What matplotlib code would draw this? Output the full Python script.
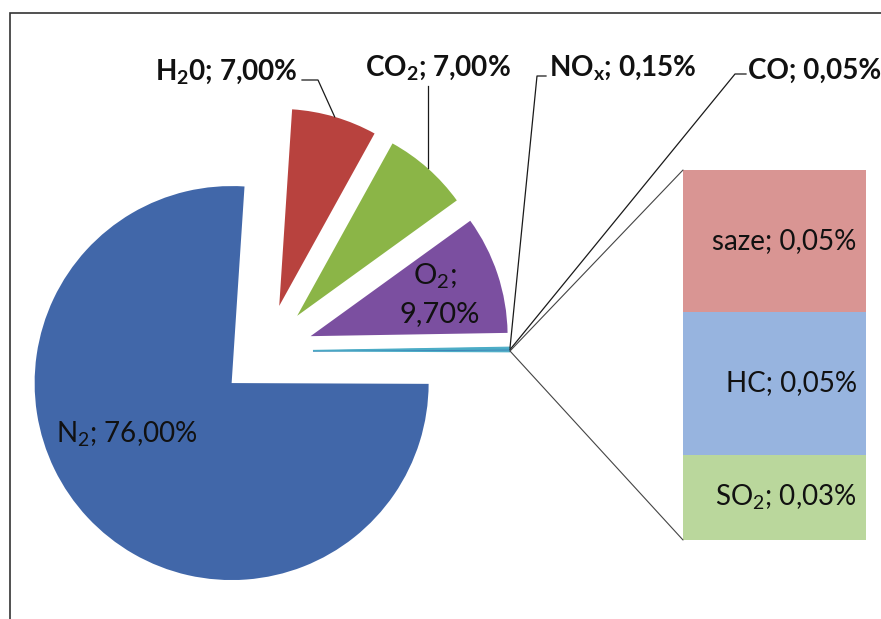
import numpy as np
import matplotlib
matplotlib.use("Agg")
import matplotlib.pyplot as plt
from matplotlib.patches import Rectangle, ConnectionPatch

plt.rcParams["mathtext.fontset"] = "custom"
plt.rcParams["mathtext.rm"] = "Lato"
plt.rcParams["mathtext.bf"] = "Lato:bold"
plt.rcParams["mathtext.it"] = "Lato:italic"

# main pie (the "other" slice feeds the bar)
pie_names = ["ostatní", "CO", "NOx", "O2", "CO2", "H2O", "N2"]
pie_values = [0.13, 0.05, 0.15, 9.70, 7.00, 7.00, 76.00]
pie_colors = ["#4BACC6", "#3F86B8", "#4BACC6", "#7B4FA0", "#8BB547", "#B8423E", "#4167A9"]

# bar of the "other" slice, bottom to top
bar_names = ["SO2", "HC", "saze"]
bar_values = [0.03, 0.05, 0.05]
bar_colors = ["#BAD79C", "#97B4DF", "#D99593"]
bar_labels = [r"SO$_\mathrm{2}$; 0,03%", "HC; 0,05%", "saze; 0,05%"]

FONT = ["Lato", "DejaVu Sans"]

fig = plt.figure(figsize=(8.81, 6.19), dpi=100)
ax = fig.add_axes([0, 0, 1, 1])

total = sum(pie_values)
start = -pie_values[0] / total * 360 / 2
wedges, _ = ax.pie(pie_values, colors=pie_colors, startangle=start,
                   counterclock=True, radius=197, center=(266, 268),
                   explode=[47] * len(pie_values),
                   wedgeprops=dict(linewidth=0))
for w in wedges[:3]:
    w.set_edgecolor(w.get_facecolor())
    w.set_linewidth(0.8)

ax.set_xlim(0, 881)
ax.set_ylim(0, 619)
ax.set_aspect("equal")
ax.axis("off")


def arc_point(w):
    th = np.deg2rad((w.theta1 + w.theta2) / 2)
    return w.center[0] + w.r * np.cos(th), w.center[1] + w.r * np.sin(th)


lc = "#1a1a1a"
tc = "#111111"
bold = dict(family=FONT, fontweight="bold", fontsize=20, color=tc)
reg = dict(family=FONT, fontsize=20, color=tc)

# H2O leader
px, py = arc_point(wedges[5])
ax.plot([px, 318, 302], [py, 539, 539], color=lc, lw=0.9)
ax.text(298, 548, r"H$_\mathbf{2}$0; 7,00%", ha="right", va="center", **bold)
# CO2 leader
px, py = arc_point(wedges[4])
ax.plot([px, px], [py, 533], color=lc, lw=0.9)
ax.text(438, 551, r"CO$_\mathbf{2}$; 7,00%", ha="center", va="center", **bold)
# NOx leader
px, py = arc_point(wedges[2])
ax.plot([px, 537, 546], [py, 543, 543], color=lc, lw=0.9)
ax.text(549, 552, r"NO$_\mathbf{x}$; 0,15%", ha="left", va="center", **bold)
# CO leader
px, py = arc_point(wedges[1])
ax.plot([px, 735, 746], [py, 545, 545], color=lc, lw=0.9)
ax.text(748, 548, "CO; 0,05%", ha="left", va="center", **bold)

ax.text(435, 343, r"O$_\mathrm{2}$;", ha="center", va="center",
        family=FONT, fontsize=21, color=tc)
ax.text(440, 305, "9,70%", ha="center", va="center",
        family=FONT, fontsize=21, color=tc)
ax.text(56, 185, r"N$_\mathrm{2}$; 76,00%", ha="left", va="center", **reg)

# bar of pie
bax = fig.add_axes([683 / 881, 79 / 619, 183 / 881, 370 / 619])
bottom = 0
for v, c, lab in zip(bar_values, bar_colors, bar_labels):
    bax.bar([0], [v], bottom=bottom, width=1, color=c, linewidth=0)
    bax.text(0.45, bottom + v / 2, lab, ha="right", va="center", **reg)
    bottom += v
bax.set_xlim(-0.5, 0.5)
bax.set_ylim(0, sum(bar_values))
bax.axis("off")

# connector lines from the "other" slice to the bar
px, py = arc_point(wedges[0])
for yb in (1, 0):
    con = ConnectionPatch(xyA=(px, py), coordsA="data", axesA=ax,
                          xyB=(0, yb), coordsB="axes fraction", axesB=bax,
                          color="#444444", lw=0.8)
    fig.add_artist(con)

# outer frame (cropped at right and bottom)
fig.add_artist(Rectangle((10 / 881, -0.1), 1.2, 606 / 619 + 0.1,
                         transform=fig.transFigure, fill=False,
                         edgecolor="#333333", lw=1.2))

fig.savefig("out.png", dpi=100)
